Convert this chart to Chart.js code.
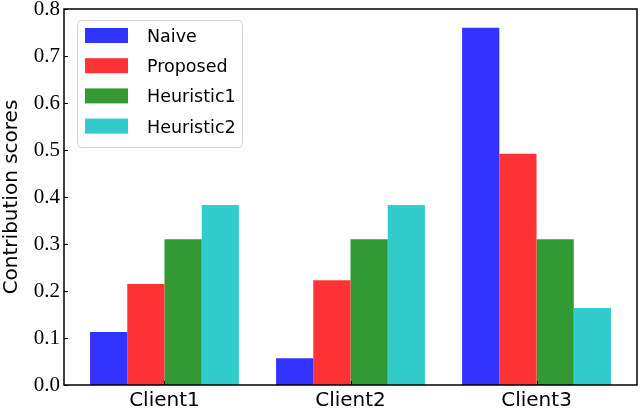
<!DOCTYPE html>
<html>
<head>
<meta charset="utf-8">
<script src="https://cdn.jsdelivr.net/npm/chart.js@4"></script>
<style>
  html, body { margin: 0; padding: 0; background: #fff; }
  #wrap { width: 640px; height: 409px; }
</style>
</head>
<body>
<div id="wrap"><canvas id="scoreChart"></canvas></div>
<script>
// data
const clients = ["Client1", "Client2", "Client3"];
const naive = [0.113, 0.057, 0.760];
const proposed = [0.215, 0.223, 0.492];
const heuristic1 = [0.310, 0.310, 0.310];
const heuristic2 = [0.383, 0.383, 0.164];
const yTicks = [0, 0.1, 0.2, 0.3, 0.4, 0.5, 0.6, 0.7, 0.8];

function points(vals) {
  return vals.map((v, i) => ({ x: i, y: v }));
}

// frame + inward tick marks, matplotlib style
const framePlugin = {
  id: "frame",
  afterDatasetsDraw(chart) {
    const { ctx, chartArea: a, scales } = chart;
    ctx.save();
    ctx.strokeStyle = "#000";
    ctx.lineWidth = 1;
    ctx.beginPath();
    yTicks.forEach(v => {
      const y = Math.round(scales.y.getPixelForValue(v)) + 0.5;
      ctx.moveTo(a.left, y);
      ctx.lineTo(a.left + 4, y);
    });
    clients.forEach((c, i) => {
      const x = Math.round(scales.x.getPixelForValue(i)) + 0.5;
      ctx.moveTo(x, a.bottom);
      ctx.lineTo(x, a.bottom - 4);
    });
    ctx.stroke();
    ctx.lineWidth = 1.5;
    ctx.strokeRect(a.left, a.top, a.right - a.left, a.bottom - a.top);
    ctx.restore();
  }
};

// legend drawn inside the plot, upper left
const legendPlugin = {
  id: "innerLegend",
  afterDraw(chart) {
    const ctx = chart.ctx;
    const bx = 77, by = 20, bw = 165, bh = 127, r = 4;
    ctx.save();
    ctx.fillStyle = "rgba(255,255,255,0.8)";
    ctx.strokeStyle = "#d0d0d0";
    ctx.lineWidth = 1;
    ctx.beginPath();
    ctx.roundRect(bx + 0.5, by + 0.5, bw, bh, r);
    ctx.fill();
    ctx.stroke();
    ctx.font = "17.5px 'DejaVu Sans'";
    ctx.textBaseline = "alphabetic";
    chart.data.datasets.forEach((ds, i) => {
      const cy = 35.5 + i * 30.2;
      ctx.fillStyle = ds.backgroundColor;
      ctx.fillRect(85, cy - 7.5, 43, 15);
      ctx.fillStyle = "#000";
      ctx.fillText(ds.label, 147, cy + 6.5);
    });
    ctx.restore();
  }
};

const ctx = document.getElementById("scoreChart").getContext("2d");
new Chart(ctx, {
  type: "bar",
  data: {
    datasets: [
      { label: "Naive", data: points(naive), backgroundColor: "rgb(51,51,255)" },
      { label: "Proposed", data: points(proposed), backgroundColor: "rgb(255,51,51)" },
      { label: "Heuristic1", data: points(heuristic1), backgroundColor: "rgb(51,153,51)" },
      { label: "Heuristic2", data: points(heuristic2), backgroundColor: "rgb(51,204,204)" }
    ]
  },
  options: {
    responsive: true,
    maintainAspectRatio: false,
    animation: false,
    devicePixelRatio: 1,
    categoryPercentage: 0.8,
    barPercentage: 1.0,
    layout: { padding: { top: 9, right: 3, left: 0, bottom: 0 } },
    plugins: {
      legend: { display: false },
      tooltip: { enabled: false }
    },
    scales: {
      x: {
        type: "linear",
        min: -0.54,
        max: 2.54,
        offset: false,
        grid: { display: false, drawTicks: false },
        border: { display: false },
        afterBuildTicks(scale) {
          scale.ticks = clients.map((c, i) => ({ value: i }));
        },
        afterFit(scale) {
          scale.height = 24;
          scale.paddingLeft = 0;
          scale.paddingRight = 0;
        },
        ticks: {
          autoSkip: false,
          maxRotation: 0,
          padding: 4,
          color: "#000",
          font: { family: "'DejaVu Sans', sans-serif", size: 20 },
          callback: v => clients[v]
        }
      },
      y: {
        min: 0,
        max: 0.8,
        grid: { display: false, drawTicks: false },
        border: { display: false },
        afterBuildTicks(scale) {
          scale.ticks = yTicks.map(v => ({ value: v }));
        },
        afterFit(scale) {
          scale.width = 64;
          scale.paddingTop = 0;
          scale.paddingBottom = 0;
        },
        ticks: {
          padding: 4,
          color: "#000",
          font: { family: "'Liberation Serif', serif", size: 21, lineHeight: 1 },
          callback: v => v.toFixed(1)
        },
        title: {
          display: true,
          text: "Contribution scores",
          color: "#000",
          padding: { top: 0, bottom: 0 },
          font: { family: "'DejaVu Sans', sans-serif", size: 20 }
        }
      }
    }
  },
  plugins: [framePlugin, legendPlugin]
});
</script>
</body>
</html>
